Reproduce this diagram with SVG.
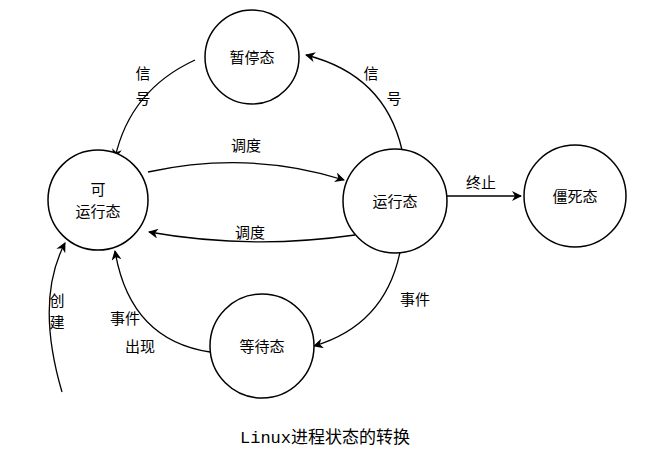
<svg xmlns="http://www.w3.org/2000/svg" width="649" height="452" viewBox="0 0 649 452">
<defs>
<marker id="a" markerWidth="10" markerHeight="10" refX="9" refY="5" orient="auto" markerUnits="userSpaceOnUse">
<path d="M0,0 L10,5 L0,10 L3,5 Z" fill="#000"/>
</marker>
<style>
.n{fill:#fff;stroke:#000;stroke-width:1.5}
.t{font-family:"Noto Sans CJK SC","Liberation Sans",sans-serif;font-size:15px;fill:#000;text-anchor:middle}
.c{fill:none;stroke:#000;stroke-width:1.3;marker-end:url(#a)}
</style>
</defs>
<rect width="649" height="452" fill="#fff"/>
<g id="connectors">
<path class="c" d="M195,60 Q130,90 115,158"/>
<path class="c" d="M402,150 Q385,75 306,55"/>
<path class="c" d="M148,172 Q250,150 344,180"/>
<path class="c" d="M355,235 Q250,250 149,232"/>
<path class="c" d="M447,196 L521,196"/>
<path class="c" d="M400,252 Q385,325 314,346"/>
<path class="c" d="M210,352 Q130,340 115,251"/>
<path class="c" d="M62,392 Q35,300 65,243"/>
<text class="t" x="143" y="79">信</text>
<text class="t" x="143" y="104">号</text>
<text class="t" x="371" y="79">信</text>
<text class="t" x="394" y="104">号</text>
<text class="t" x="246" y="151">调度</text>
<text class="t" x="250" y="238">调度</text>
<text class="t" x="481" y="188">终止</text>
<text class="t" x="415" y="305">事件</text>
<text class="t" x="125" y="324">事件</text>
<text class="t" x="140" y="352">出现</text>
<text class="t" x="57" y="306">创</text>
<text class="t" x="57" y="328">建</text>
</g>
<g id="zanting"><circle class="n" cx="252" cy="57" r="47"/><text class="t" x="252" y="63">暂停态</text></g>
<g id="keyunxing"><circle class="n" cx="98" cy="200" r="50"/><text class="t" x="98" y="195">可</text><text class="t" x="98" y="217">运行态</text></g>
<g id="yunxing"><circle class="n" cx="395" cy="201" r="52"/><text class="t" x="395" y="207">运行态</text></g>
<g id="jiangsi"><circle class="n" cx="575" cy="196" r="51"/><text class="t" x="575" y="202">僵死态</text></g>
<g id="dengdai"><circle class="n" cx="262" cy="346" r="52"/><text class="t" x="262" y="352">等待态</text></g>
<text x="325" y="443" style="font-family:'Liberation Mono','Noto Sans CJK SC',monospace;font-size:17px;text-anchor:middle">Linux进程状态的转换</text>
</svg>
